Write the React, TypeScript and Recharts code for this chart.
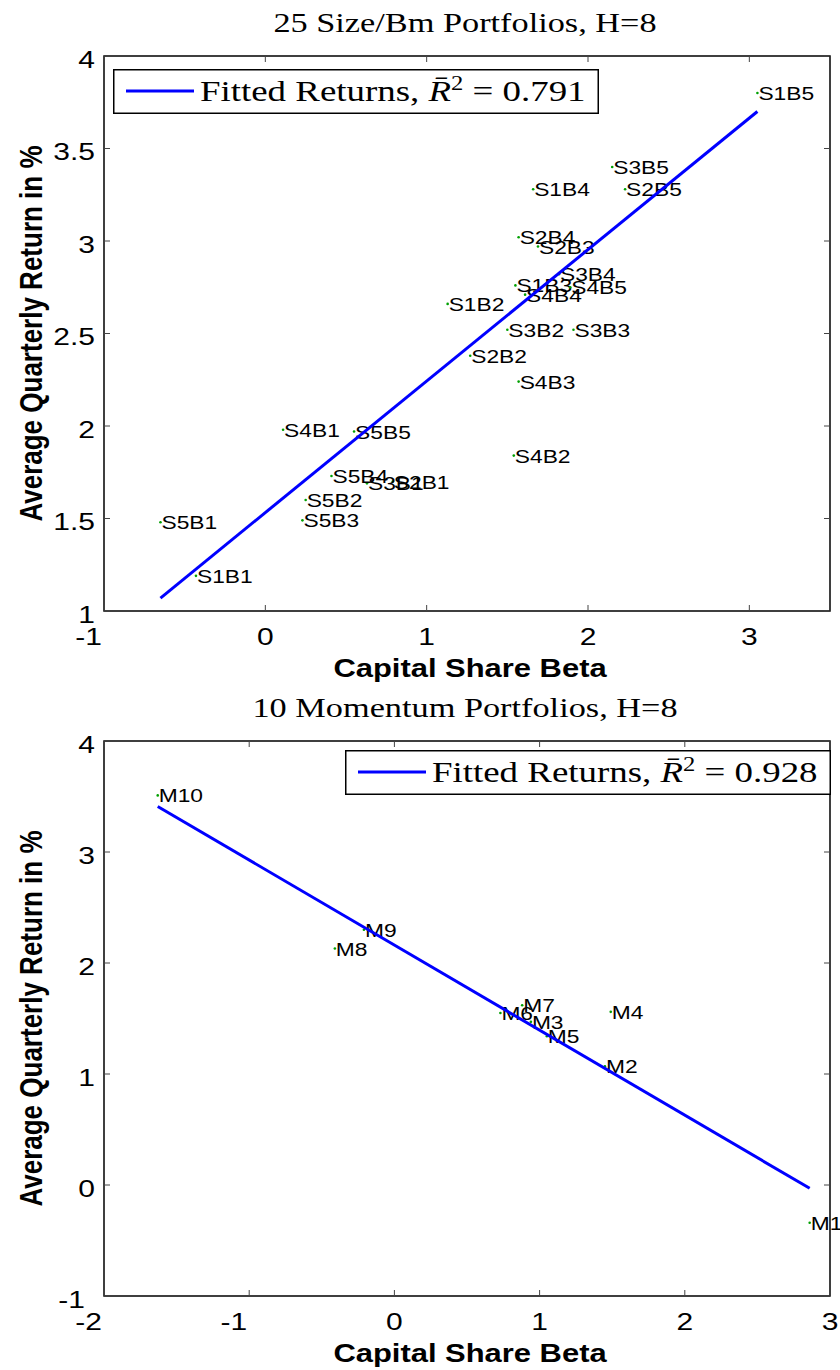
import { ScatterChart, Scatter, XAxis, YAxis, ReferenceArea, Legend, Label } from "recharts";

// 25 Size/Bm portfolios
const sizeNames = [
  "S1B1", "S1B2", "S1B3", "S1B4", "S1B5",
  "S2B1", "S2B2", "S2B3", "S2B4", "S2B5",
  "S3B1", "S3B2", "S3B3", "S3B4", "S3B5",
  "S4B1", "S4B2", "S4B3", "S4B4", "S4B5",
  "S5B1", "S5B2", "S5B3", "S5B4", "S5B5",
];
const sizeBeta = [
  -0.43, 1.13, 1.55, 1.66, 3.05,
  0.79, 1.27, 1.69, 1.57, 2.23,
  0.63, 1.5, 1.91, 1.82, 2.15,
  0.11, 1.54, 1.57, 1.61, 1.89,
  -0.65, 0.25, 0.23, 0.41, 0.55,
];
const sizeReturn = [
  1.19, 2.66, 2.76, 3.28, 3.8,
  1.7, 2.38, 2.97, 3.02, 3.28,
  1.69, 2.52, 2.52, 2.82, 3.4,
  1.98, 1.84, 2.24, 2.71, 2.75,
  1.48, 1.6, 1.49, 1.73, 1.97,
];
const sizeFitBeta = [-0.65, 3.05];
const sizeFitReturn = [1.07, 3.7];
const sizeXDomain = [-1, 3.5];
const sizeYDomain = [1, 4];
const sizeXTicks = [-1, 0, 1, 2, 3];
const sizeYTicks = [1, 1.5, 2, 2.5, 3, 3.5, 4];

// 10 momentum portfolios
const momNames = ["M1", "M2", "M3", "M4", "M5", "M6", "M7", "M8", "M9", "M10"];
const momBeta = [2.86, 1.45, 0.94, 1.49, 1.05, 0.73, 0.88, -0.41, -0.21, -1.63];
const momReturn = [-0.34, 1.07, 1.47, 1.56, 1.34, 1.55, 1.62, 2.13, 2.3, 3.51];
const momFitBeta = [-1.63, 2.86];
const momFitReturn = [3.41, -0.03];
const momXDomain = [-2, 3];
const momYDomain = [-1, 4];
const momXTicks = [-2, -1, 0, 1, 2, 3];
const momYTicks = [-1, 0, 1, 2, 3, 4];

const W = 840;
const H = 685;
const M = { top: 56, right: 10, bottom: 34, left: 44 };
const X_AXIS_H = 40;
const Y_AXIS_W = 60;
const SANS = "Liberation Sans, Arial, sans-serif";
const SERIF = "Liberation Serif, Times New Roman, serif";

const XTick = (props: any) => {
  const { x, y, payload } = props;
  const v = payload.value;
  const neg = v < 0;
  return (
    <g>
      <line x1={x} x2={x} y1={y} y2={y - 6} stroke="#444" />
      <line x1={x} x2={x} y1={M.top} y2={M.top + 6} stroke="#444" />
      <text
        transform={`translate(${neg ? x - 2 : x},${y + 34}) scale(1.25,1)`}
        textAnchor={neg ? "end" : "middle"}
        fontFamily={SANS}
        fontSize={24}
        fill="#000"
      >
        {String(v)}
      </text>
    </g>
  );
};

const YTick = (props: any) => {
  const { x, y, payload } = props;
  const v = payload.value;
  const right = W - M.right;
  return (
    <g>
      <line x1={x} x2={x + 6} y1={y} y2={y} stroke="#444" />
      <line x1={right - 6} x2={right} y1={y} y2={y} stroke="#444" />
      <text
        transform={`translate(${x - (v < 0 ? 19 : 9)},${y + 11.5}) scale(1.25,1)`}
        textAnchor="end"
        fontFamily={SANS}
        fontSize={24}
        fill="#000"
      >
        {String(v)}
      </text>
    </g>
  );
};

const PointMark = (props: any) => {
  const { cx, cy, payload } = props;
  return (
    <g>
      <circle cx={cx} cy={cy} r={1.3} fill="#00a000" />
      <text
        transform={`translate(${cx + 1},${cy + 7}) scale(1.2,1)`}
        fontFamily={SANS}
        fontSize={19}
        fill="#000"
      >
        {payload.name}
      </text>
    </g>
  );
};

const LegendBox = ({ r2 }: { r2: string }) => (
  <svg width={486} height={45} style={{ display: "block" }}>
    <rect x={0.75} y={0.75} width={484.5} height={43.5} fill="#fff" stroke="#000" strokeWidth={1.5} />
    <line x1={13} x2={81} y1={22} y2={22} stroke="#0000ff" strokeWidth={3} />
    <text transform="translate(87,32) scale(1.23,1)" fontFamily={SERIF} fontSize={30} fill="#000">
      Fitted Returns,{" "}
      <tspan fontStyle="italic">R&#772;</tspan>
      <tspan dy={-11} fontSize={20}>2</tspan>
      <tspan dy={11}> = {r2}</tspan>
    </text>
  </svg>
);

function Panel(p: {
  title: string;
  names: string[];
  beta: number[];
  ret: number[];
  fitBeta: number[];
  fitRet: number[];
  xDomain: number[];
  yDomain: number[];
  xTicks: number[];
  yTicks: number[];
  r2: string;
  legendLeft: number;
  legendTop: number;
}) {
  const points = p.names.map((name, i) => ({ name, x: p.beta[i], y: p.ret[i] }));
  const fit = p.fitBeta.map((x, i) => ({ x, y: p.fitRet[i] }));

  return (
    <ScatterChart width={W} height={H} margin={M}>
      <XAxis
        type="number"
        dataKey="x"
        domain={p.xDomain}
        ticks={p.xTicks}
        interval={0}
        height={X_AXIS_H}
        tickSize={0}
        tickMargin={0}
        tickLine={false}
        axisLine={false}
        tick={(t: any) => <XTick {...t} />}
      >
        <Label
          content={(lp: any) => {
            const vb = lp.viewBox;
            return (
              <text
                transform={`translate(${vb.x + vb.width / 2 + 3},${vb.y + 66}) scale(1.19,1)`}
                textAnchor="middle"
                fontFamily={SANS}
                fontWeight="bold"
                fontSize={26}
                fill="#000"
              >
                Capital Share Beta
              </text>
            );
          }}
        />
      </XAxis>
      <YAxis
        type="number"
        dataKey="y"
        domain={p.yDomain}
        ticks={p.yTicks}
        interval={0}
        width={Y_AXIS_W}
        tickSize={0}
        tickMargin={0}
        tickLine={false}
        axisLine={false}
        tick={(t: any) => <YTick {...t} />}
      >
        <Label
          content={(lp: any) => {
            const vb = lp.viewBox;
            return (
              <text
                transform={`translate(42,${vb.y + vb.height / 2}) rotate(-90) scale(1,1.22)`}
                textAnchor="middle"
                fontFamily={SANS}
                fontWeight="bold"
                fontSize={26}
                fill="#000"
              >
                Average Quarterly Return in %
              </text>
            );
          }}
        />
      </YAxis>
      <ReferenceArea
        x1={p.xDomain[0]}
        x2={p.xDomain[1]}
        y1={p.yDomain[0]}
        y2={p.yDomain[1]}
        fill="none"
        stroke="#000"
        strokeWidth={1.5}
        ifOverflow="visible"
      >
        <Label
          content={(lp: any) => {
            const vb = lp.viewBox;
            return (
              <text
                transform={`translate(${vb.x + vb.width / 2 - 2},${vb.y - 24}) scale(1.27,1)`}
                textAnchor="middle"
                fontFamily={SERIF}
                fontSize={27}
                fill="#000"
              >
                {p.title}
              </text>
            );
          }}
        />
      </ReferenceArea>
      <Scatter
        data={points}
        shape={(s: any) => <PointMark {...s} />}
        legendType="none"
        isAnimationActive={false}
      />
      <Scatter
        name="Fitted Returns"
        data={fit}
        line={{ stroke: "#0000ff", strokeWidth: 3 }}
        shape={() => <g />}
        isAnimationActive={false}
      />
      <Legend
        layout="horizontal"
        verticalAlign="middle"
        align="center"
        wrapperStyle={{ left: p.legendLeft, top: p.legendTop, width: 486, height: 45 }}
        content={() => <LegendBox r2={p.r2} />}
      />
    </ScatterChart>
  );
}

export default function App() {
  return (
    <div style={{ position: "absolute", left: 0, top: 0, width: W, height: 2 * H, background: "#fff" }}>
      <Panel
        title="25 Size/Bm Portfolios, H=8"
        names={sizeNames}
        beta={sizeBeta}
        ret={sizeReturn}
        fitBeta={sizeFitBeta}
        fitRet={sizeFitReturn}
        xDomain={sizeXDomain}
        yDomain={sizeYDomain}
        xTicks={sizeXTicks}
        yTicks={sizeYTicks}
        r2="0.791"
        legendLeft={113}
        legendTop={69}
      />
      <Panel
        title="10 Momentum Portfolios, H=8"
        names={momNames}
        beta={momBeta}
        ret={momReturn}
        fitBeta={momFitBeta}
        fitRet={momFitReturn}
        xDomain={momXDomain}
        yDomain={momYDomain}
        xTicks={momXTicks}
        yTicks={momYTicks}
        r2="0.928"
        legendLeft={345}
        legendTop={65}
      />
    </div>
  );
}
